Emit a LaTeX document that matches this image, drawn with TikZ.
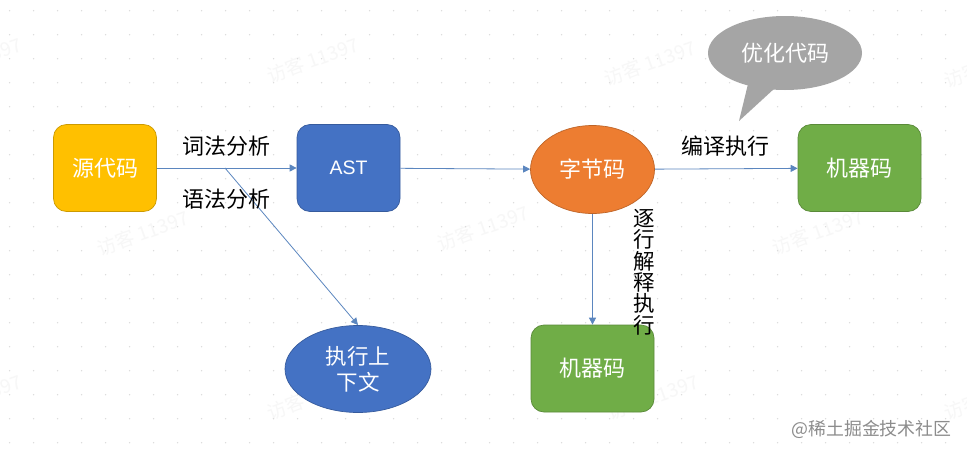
\documentclass[tikz,border=0pt]{standalone}
\usepackage{fontspec}
\setmainfont{Noto Sans CJK SC}
\newfontfamily\latinsans{Liberation Sans}
\usetikzlibrary{arrows.meta,shapes.geometric}
\definecolor{linkblue}{HTML}{5B86BF}
\definecolor{boxyellow}{HTML}{FFC000}
\definecolor{boxblue}{HTML}{4472C4}
\definecolor{boxorange}{HTML}{ED7D31}
\definecolor{boxgreen}{HTML}{70AD47}
\definecolor{bubblegrey}{HTML}{A5A5A5}
\definecolor{griddot}{HTML}{DADADA}
\definecolor{markgrey}{HTML}{F7F7F7}
\tikzset{
  x=1pt,y=-1pt,
  roundbox/.style={draw=#1!80!black,fill=#1,rounded corners=13pt,minimum width=103pt,minimum height=87pt,inner sep=0pt,text=white,font=\fontsize{22}{24}\selectfont,line width=0.7pt},
  oval/.style={ellipse,draw=#1!80!black,fill=#1,inner sep=0pt,text=white,font=\fontsize{22}{24}\selectfont,line width=0.7pt},
  flow/.style={draw=linkblue,line width=0.8pt,-{Stealth[length=7pt,width=7pt,inset=0pt]}},
  caption/.style={text=black,font=\fontsize{22}{24}\selectfont,inner sep=0pt},
  faint/.style={text=markgrey,rotate=20,font=\fontsize{19}{22}\selectfont,inner sep=0pt},
}
\begin{document}
\begin{tikzpicture}
\useasboundingbox (0,0) rectangle (967,455);
\fill[white] (0,0) rectangle (967,455);
\foreach \px/\py in {-24/60,313/60,650/63,990/65,143/233,483/228,818/232,-24/397,313/397,653/397,990/397}{
  \node[faint] (wm\px\py) at (\px,\py) {访客 11397};}
\foreach \i in {0,...,40}{\foreach \j in {0,...,18}{
  \fill[griddot] ({9.6+24*\i},{10.7+24*\j}) circle (0.75pt);}}
\node[roundbox=boxyellow] (src) at (105,168) {源代码};
\node[roundbox=boxblue,font=\latinsans\fontsize{19.5}{24}\selectfont] (ast) at (348.5,168) {AST};
\node[oval=boxorange,minimum width=124pt,minimum height=88pt] (byte) at (592.5,169.5) {字节码};
\node[roundbox=boxgreen,minimum width=123pt] (mc1) at (859.5,168) {机器码};
\node[roundbox=boxgreen,minimum width=123pt] (mc2) at (592.5,368.5) {机器码};
\node[oval=boxblue,minimum width=146pt,minimum height=87pt,align=center,font=\fontsize{21.5}{26}\selectfont] (ctx) at (358,369) {执行上\\下文};
\node[ellipse,fill=bubblegrey,minimum width=154pt,minimum height=74pt,inner sep=0pt,text=white,font=\fontsize{22}{24}\selectfont] (opt) at (785,53) {优化代码};
\coordinate (tip) at (739,121);
\fill[bubblegrey] (748,84) -- (tip) -- (775,88) -- cycle;
\draw[flow] (src) -- (ast);
\coordinate (fork) at (225,168);
\draw[flow] (fork) -- (358,325);
\draw[flow] (ast) -- (byte);
\draw[flow] (byte) -- (mc1);
\draw[flow] (byte) -- (mc2);
\node[caption] (lex) at (226,146) {词法分析};
\node[caption] (syn) at (226.5,199) {语法分析};
\node[caption] (comp) at (725.5,146) {编译执行};
\node[caption,align=center,font=\fontsize{21.5}{21.4}\selectfont] (interp) at (644.5,272) {逐\\行\\解\\释\\执\\行};
\node[text=black!45,inner sep=0pt,font=\fontsize{17.9}{20}\selectfont] (brand) at (871.5,429) {@稀土掘金技术社区};
\end{tikzpicture}
\end{document}
